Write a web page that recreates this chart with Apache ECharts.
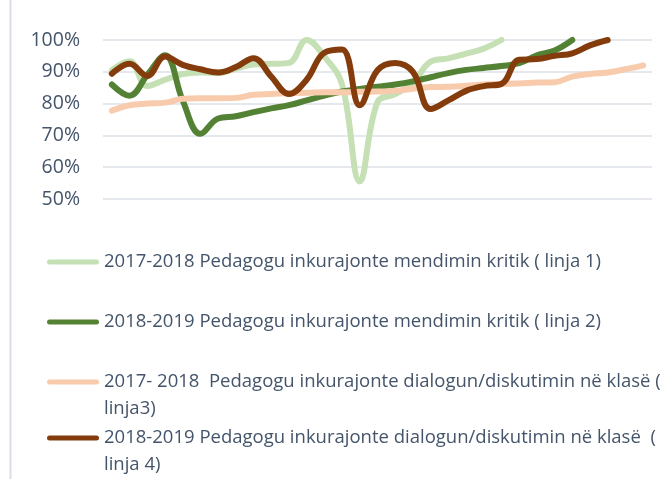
<!DOCTYPE html>
<html>
<head>
<meta charset="utf-8">
<script src="https://cdn.jsdelivr.net/npm/echarts@6/dist/echarts.min.js"></script>
<style>
  html, body { margin: 0; padding: 0; background: #ffffff; }
  #chart { width: 670px; height: 479px; }
</style>
</head>
<body>
<div id="chart"></div>
<script>
// Observation points along the horizontal axis (not labelled on the chart)
const categories = ['1','2','3','4','5','6','7','8','9','10','11','12','13','14','15','16',
  '17','18','19','20','21','22','23','24','25','26','27','28','29','30','31'];

// Y axis ticks (percent)
const yTicks = [50, 60, 70, 80, 90, 100];

const seriesNames = [
  '2017-2018 Pedagogu inkurajonte mendimin kritik ( linja 1)',
  '2018-2019 Pedagogu inkurajonte mendimin kritik ( linja 2)',
  '2017- 2018  Pedagogu inkurajonte dialogun/diskutimin në klasë ( linja3)',
  '2018-2019 Pedagogu inkurajonte dialogun/diskutimin në klasë  ( linja 4)'
];

// linja 1
const critical1718 = [90.5, 93.3, 85.5, 87.5, 89.3, 89.8, 89.6, 91, 92.3, 92.5, 92.8, 100, 94.8, 86, 55.5,
  80.5, 83, 86.5, 93.2, 94.2, 95.7, 97.3, 100, null, null, null, null, null, null, null, null];
// linja 2
const critical1819 = [86, 82.5, 89, 95.2, 81, 70.5, 75.3, 76, 77.3, 78.5, 79.5, 81, 82.5, 83.8, 84.6,
  85.3, 86, 87, 88.3, 89.6, 90.6, 91.2, 91.8, 92.7, 95.2, 96.7, 100, null, null, null, null];
// linja 3
const dialogue1718 = [77.8, 79.5, 80, 80.3, 81.5, 81.7, 81.7, 81.8, 82.8, 83, 83.3, 83.4, 83.6, 83.6, 83.7,
  83.8, 84, 84.7, 85.2, 85.3, 85.6, 86, 86.2, 86.3, 86.6, 86.7, 88.5, 89.3, 89.8, 90.8, 92];
// linja 4
const dialogue1819 = [89.4, 92.5, 88.7, 94.8, 92.2, 90.8, 89.8, 91.5, 94.3, 88.5, 83, 87.5, 96, 97, 79.5,
  90.5, 92.8, 90, 78.3, 81, 84, 85.5, 86.2, 93.8, 94, 95, 95.8, 98.3, 100, null, null];

const colors = ['#C5E0B4', '#548235', '#F8CBAD', '#843C0C'];
const values = [critical1718, critical1819, dialogue1718, dialogue1819];

const textColor = '#44546A';
const fontFamily = '"Open Sans", "Noto Sans", sans-serif';

const chart = echarts.init(document.getElementById('chart'), null, { renderer: 'canvas' });

const series = seriesNames.map((name, i) => ({
  name: name,
  type: 'line',
  data: values[i],
  smooth: 0.4,
  symbol: 'none',
  clip: false,
  lineStyle: { color: colors[i], width: 6, cap: 'round', join: 'round' },
  itemStyle: { color: colors[i] },
  emphasis: { disabled: true },
  z: 2 + i
}));

// Legend entries: long names wrap; a leading blank line keeps the swatch level with the first line
const wrapped = {
  [seriesNames[2]]: '\n2017- 2018  Pedagogu inkurajonte dialogun/diskutimin në klasë (\nlinja3)',
  [seriesNames[3]]: '\n2018-2019 Pedagogu inkurajonte dialogun/diskutimin në klasë  (\nlinja 4)'
};

const lh = 26.5;
const legendCenters = [262, 322, 382, 438];
const legends = seriesNames.map((name, i) => {
  const multi = !!wrapped[name];
  return {
    data: [{ name: name, icon: 'path://M2.5,0 L49.5,0 A2.5,2.5 0 0 1 49.5,5 L2.5,5 A2.5,2.5 0 0 1 2.5,0 Z' }],
    left: 47,
    top: legendCenters[i] - (multi ? 1.5 * lh : lh / 2),
    padding: 0,
    orient: 'vertical',
    itemWidth: 52,
    itemHeight: 5,
    selectedMode: false,
    formatter: (n) => wrapped[n] || n,
    itemStyle: { color: colors[i] },
    textStyle: {
      color: textColor,
      fontFamily: fontFamily,
      fontSize: 18.5,
      lineHeight: lh
    }
  };
});

chart.setOption({
  backgroundColor: '#ffffff',
  animation: false,
  color: colors,
  grid: { left: 103, right: 18, top: 40, height: 159, containLabel: false },
  xAxis: {
    type: 'category',
    data: categories,
    boundaryGap: true,
    axisLine: { show: false },
    axisTick: { show: false },
    axisLabel: { show: false },
    splitLine: { show: false }
  },
  yAxis: {
    type: 'value',
    min: yTicks[0],
    max: yTicks[yTicks.length - 1],
    interval: 10,
    axisLine: { show: false },
    axisTick: { show: false },
    axisLabel: {
      formatter: '{value}%',
      color: textColor,
      fontFamily: fontFamily,
      fontSize: 19.5,
      margin: 23
    },
    splitLine: { lineStyle: { color: '#DDE1E7', width: 1.5 } }
  },
  legend: legends,
  graphic: [{
    type: 'line',
    shape: { x1: 10.5, y1: 0, x2: 10.5, y2: 479 },
    style: { stroke: '#D9DEE6', lineWidth: 2 },
    silent: true
  }],
  series: series
});
</script>
</body>
</html>
